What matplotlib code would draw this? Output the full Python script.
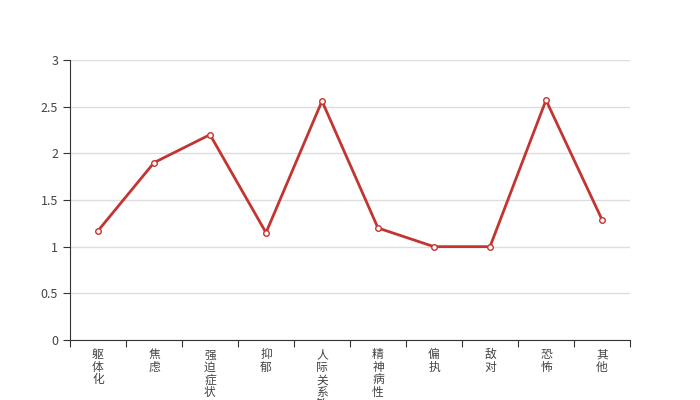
import matplotlib
matplotlib.use("Agg")
import matplotlib.pyplot as plt

plt.rcParams['font.family'] = ['Noto Sans CJK SC', 'DejaVu Sans']

categories = ['躯体化', '焦虑', '强迫症状', '抑郁', '人际关系敏感', '精神病性', '偏执', '敌对', '恐怖', '其他']
values = [1.17, 1.90, 2.20, 1.15, 2.56, 1.20, 1.00, 1.00, 2.57, 1.29]
yticks = [0, 0.5, 1, 1.5, 2, 2.5, 3]
ytick_labels = ['0', '0.5', '1', '1.5', '2', '2.5', '3']

fig = plt.figure(figsize=(7, 4), dpi=100)
ax = fig.add_axes([0.1, 0.15, 0.8, 0.70])

x = list(range(len(categories)))
ax.plot(x, values, color='#c23531', linewidth=2, marker='o', markersize=4,
        markerfacecolor='white', markeredgecolor='#c23531', markeredgewidth=1, zorder=3)

ax.set_xlim(-0.5, len(categories) - 0.5)
ax.set_ylim(0, 3)
ax.set_yticks(yticks)
ax.set_yticklabels(ytick_labels)
ax.grid(axis='y', color='#dddddd', linewidth=1)
ax.set_axisbelow(True)

ax.set_xticks([i - 0.5 for i in range(len(categories) + 1)])
ax.set_xticklabels([])
ax.set_xticks(x, minor=True)
ax.set_xticklabels(['\n'.join(c) for c in categories], minor=True, fontsize=8.5,
                   color='#444444', linespacing=0.95, va='top')
ax.tick_params(axis='x', which='minor', length=0, pad=6)
ax.tick_params(axis='x', which='major', length=5, color='#333333')
ax.tick_params(axis='y', length=5, color='#333333', labelsize=9, labelcolor='#444444')

for s in ['top', 'right']:
    ax.spines[s].set_visible(False)
for s in ['left', 'bottom']:
    ax.spines[s].set_color('#333333')

fig.savefig('out.png', dpi=100)
